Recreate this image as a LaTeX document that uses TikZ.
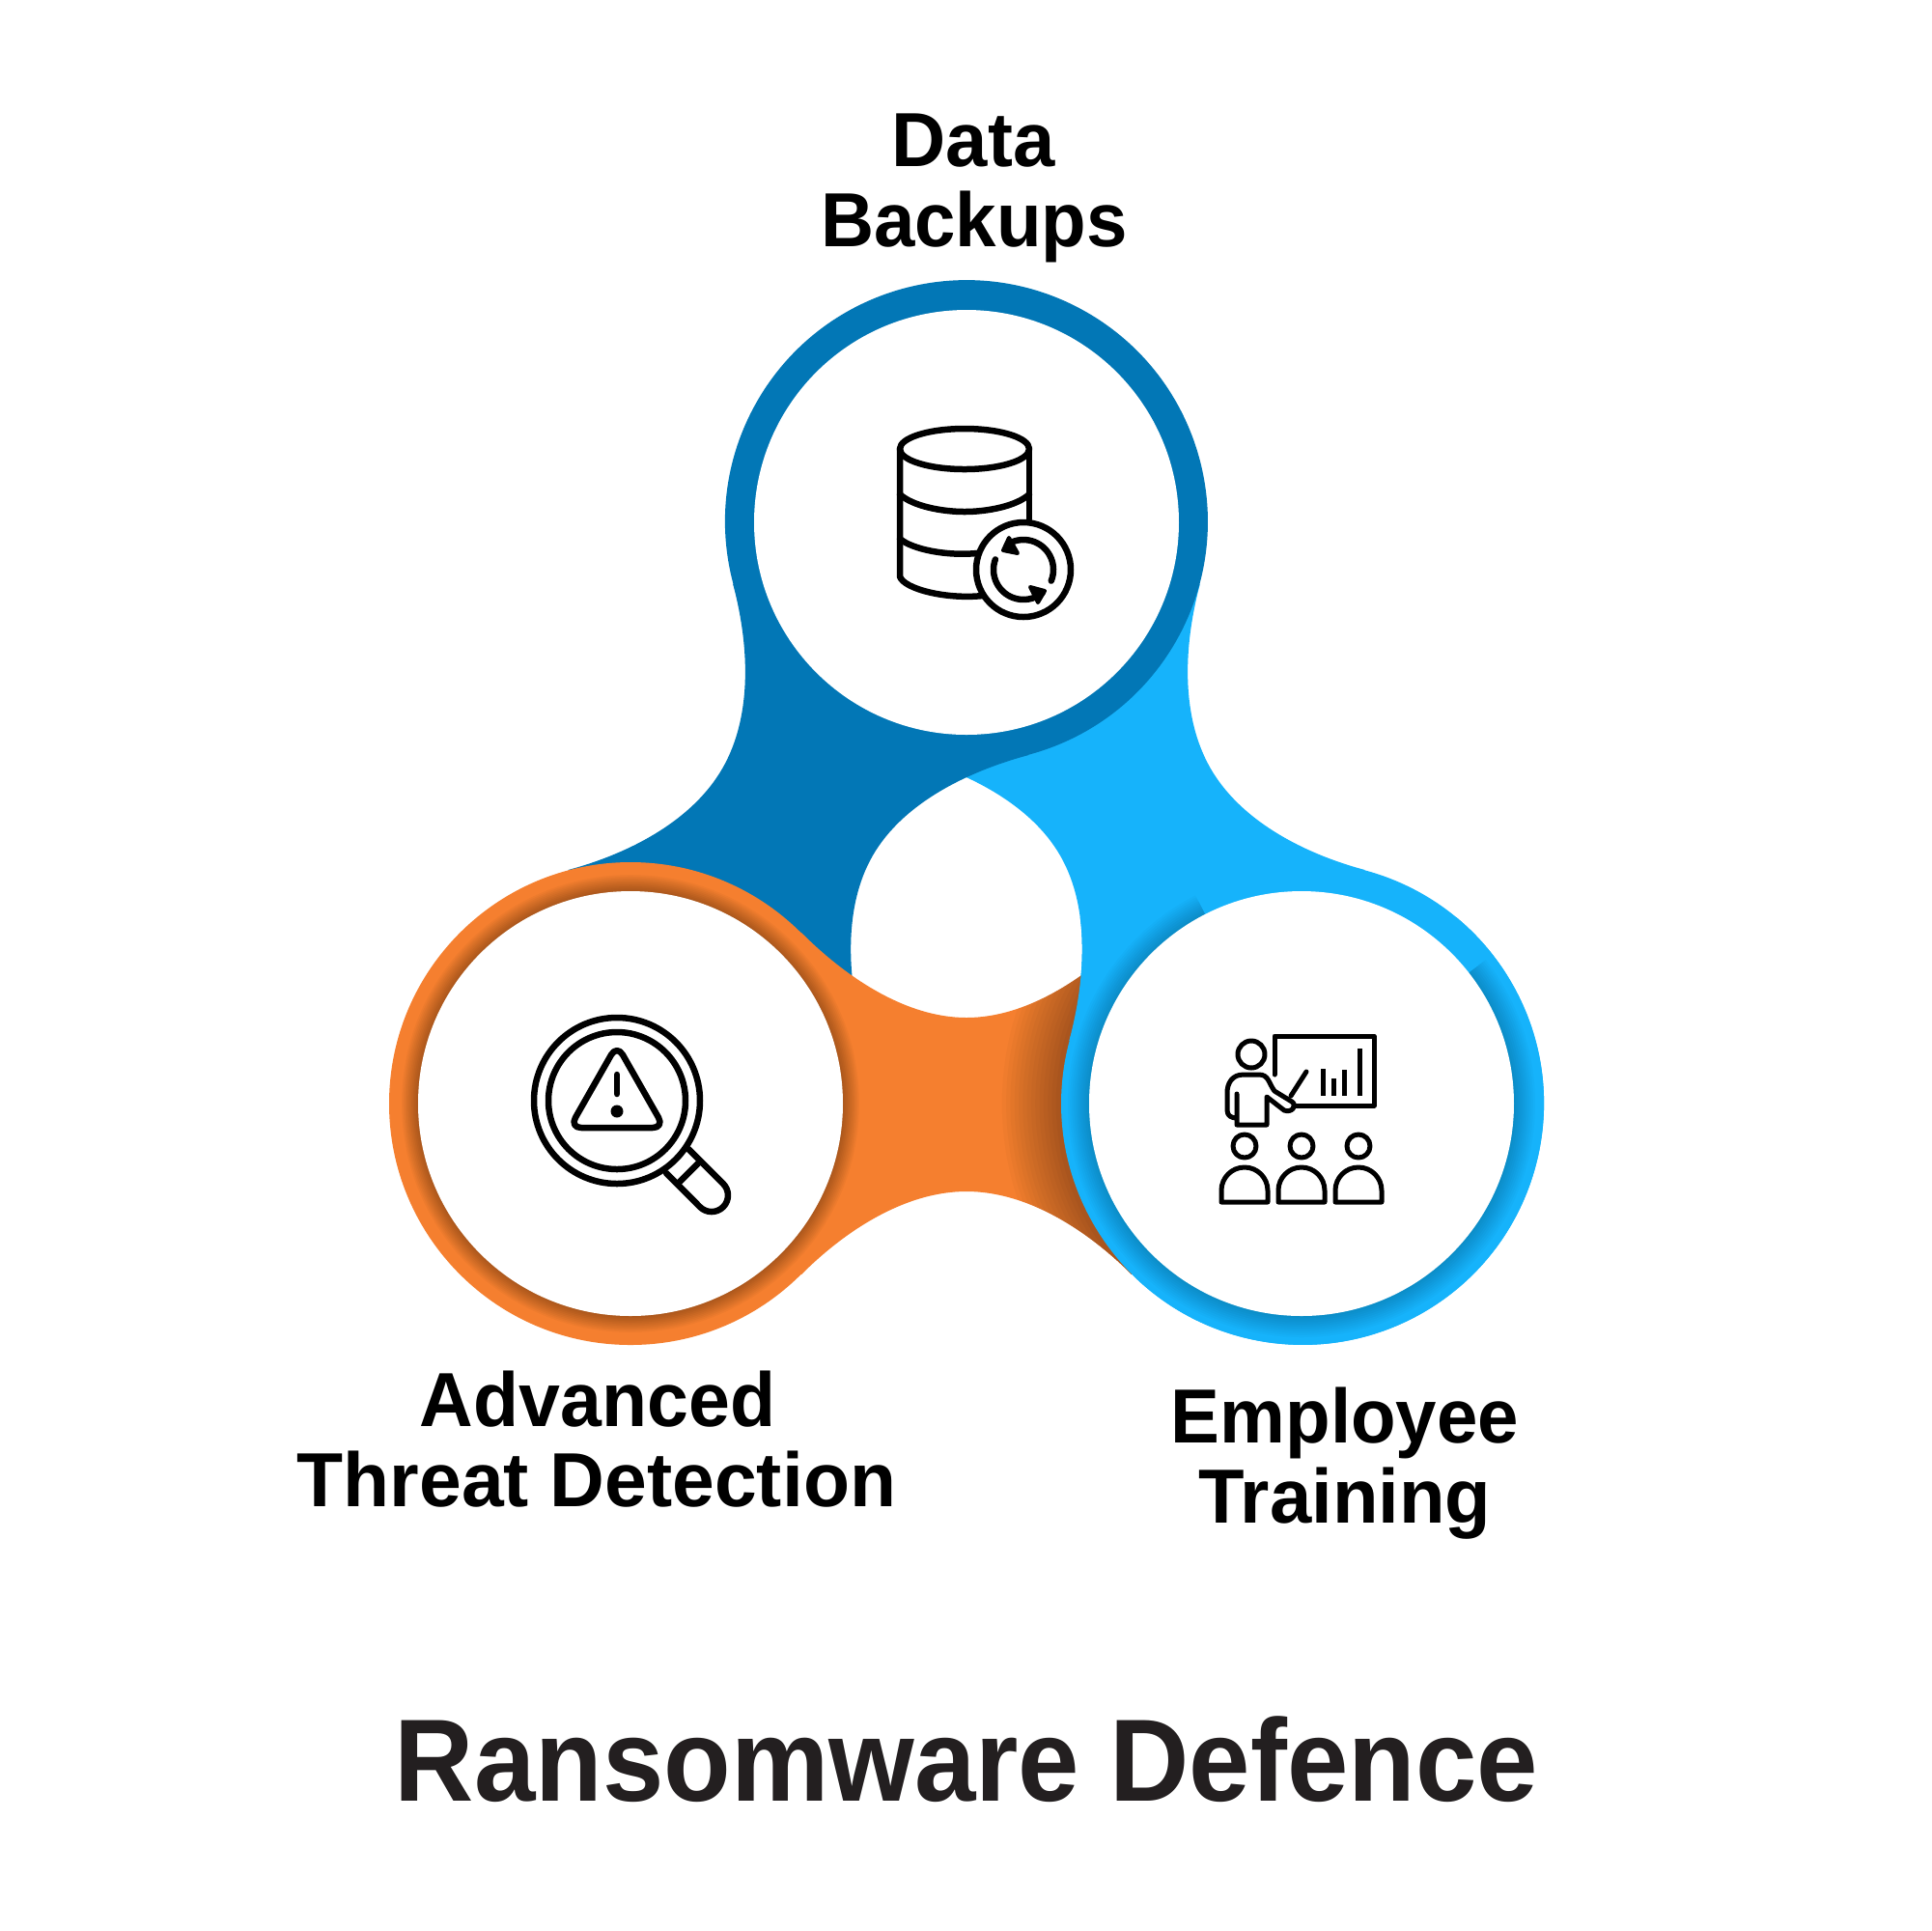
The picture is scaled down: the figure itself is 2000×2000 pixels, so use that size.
\documentclass[tikz,border=0pt]{standalone}
\usepackage{fontspec}
\setmainfont{Liberation Sans}
\definecolor{darkb}{RGB}{2,119,182}
\definecolor{lightb}{RGB}{22,179,251}
\definecolor{orng}{RGB}{245,127,47}
\definecolor{titlec}{RGB}{35,31,32}
\newcommand{\neckpath}{(-171,24) -- (-171,378) .. controls (-125,332) and (-63,292) .. (0,292) .. controls (63,292) and (125,332) .. (171,378) -- (171,24) .. controls (125,70) and (63,112) .. (0,112) .. controls (-63,112) and (-125,70) .. (-171,24) -- cycle}
\newcommand{\lobe}[2]{%
  \begin{scope}[shift={(1001,942)},rotate=#1]
    \fill[#2] (-348,201) circle (25mm);
    \fill[#2] \neckpath;
  \end{scope}}
\tikzset{
  ico/.style={line width=0.65mm,line cap=round,line join=round,black},
  icot/.style={line width=0.5mm,line cap=round,line join=round,black},
  lab/.style={anchor=base,font=\fontsize{22.6}{26}\selectfont\bfseries,text=black,inner sep=0pt},
  ttl/.style={anchor=base,font=\fontsize{34.5}{40}\selectfont\bfseries,text=titlec,inner sep=0pt},
}
\begin{document}
\begin{tikzpicture}[x=0.1mm,y=-0.1mm]
\useasboundingbox (0,0) rectangle (2000,2000);
\fill[white] (0,0) rectangle (2000,2000);
% lobes, cyclic overlap
\lobe{120}{lightb}
\lobe{-120}{darkb}
\lobe{0}{orng}
% shadow of blue ring on the orange neck
\begin{scope}
  \clip[shift={(1001,942)}] \neckpath;
  \foreach \k in {1,...,14}
    \fill[black,fill opacity=.022] (1348,1143) circle ({(25+\k*0.43)*1mm});
\end{scope}
% blue lobe again, over the orange
\begin{scope}
  \clip (1040,950) rectangle (1700,1500);
  \lobe{120}{lightb}
\end{scope}
% inner glows
\foreach \k in {1,...,10}
  \fill[black,fill opacity=.033] (653,1143) circle ({(22+\k*0.17)*1mm});
\begin{scope}
  \clip (1348,1143) -- +(117:4cm) -- +(-4cm,4cm) -- +(-4cm,-4cm) -- +(4cm,-4cm) -- +(4cm,3.125cm) -- cycle;
  \foreach \k in {1,...,10}
    \fill[black,fill opacity=.02] (1348,1143) circle ({(22+\k*0.22)*1mm});
\end{scope}
% white discs
\fill[white] (1001,541) circle (22mm);
\fill[white] (653,1143) circle (22mm);
\fill[white] (1348,1143) circle (22mm);
% database icon
\draw[ico] (999,465) ellipse (6.7mm and 2.1mm);
\draw[ico] (932,465) -- (932,597) .. controls (936,610) and (980,621) .. (1018,617);
\draw[ico] (1066,465) -- (1066,538);
\draw[ico] (932,512) .. controls (945,524) and (975,530) .. (999,530) .. controls (1023,530) and (1053,524) .. (1066,512);
\draw[ico] (932,558) .. controls (945,569) and (980,576) .. (1012,573);
\draw[ico,fill=white] (1060,590) circle (4.9mm);
\draw[ico] (1060,590) ++(-22:3.1mm) arc[start angle=-22,end angle=122,radius=3.1mm];
\draw[ico] (1060,590) ++(160:3.1mm) arc[start angle=160,end angle=310,radius=3.1mm];
\fill[black,draw=black,line width=.4mm,line join=round] (1045,557) -- (1039,570) -- (1054,573) -- cycle;
\fill[black,draw=black,line width=.4mm,line join=round] (1067,608) -- (1082,612) -- (1075,624) -- cycle;
% magnifier icon
\draw[ico] (639,1140) circle (8.6mm);
\draw[ico] (639,1140) circle (7.1mm);
\draw[ico,rounded corners=1.2mm] (639,1082) -- (688,1168) -- (590,1168) -- cycle;
\draw[ico] (639,1113) -- (639,1133);
\fill[black] (639,1151) circle (.65mm);
\draw[ico] (713,1190) -- (749,1226) arc[start angle=45,end angle=-135,radius=1.7mm] -- (690,1215);
\draw[ico] (703,1225) -- (725,1203);
% training icon
\draw[icot] (1320,1113) -- (1320,1073) -- (1423,1073) -- (1423,1145) -- (1340,1145);
\foreach \xx/\yy in {1370/1107,1381/1117,1392/1108,1408/1086}
  \draw[line width=.5mm,black] (\xx,\yy) -- (\xx,1135);
\draw[icot] (1353,1110) -- (1337,1135);
\draw[icot] (1296,1092) circle (1.4mm);
\draw[icot] (1281,1133) -- (1281,1165) -- (1312,1165) -- (1312,1136) -- (1330,1150) .. controls (1338,1153) and (1344,1145) .. (1338,1141) -- (1320,1130) .. controls (1314,1122) and (1314,1113) .. (1304,1113) -- (1288,1113) .. controls (1276,1113) and (1271,1122) .. (1271,1132) -- (1271,1150) .. controls (1271,1156) and (1276,1158) .. (1281,1158);
\foreach \xx in {1289,1348,1407}{
  \draw[icot] (\xx,1187) circle (1.2mm);
  \draw[icot] (\xx-24,1245) -- (\xx-24,1233) arc[start angle=180,end angle=0,radius=2.4mm] -- (\xx+24,1245) -- cycle;
}
% labels
\node[lab] (l1) at (1008,172) {\scalebox{.98}[1]{Data}};
\node[lab] (l2) at (1009,255) {\scalebox{.96}[1]{Backups}};
\node[lab] (l3) at (619,1477) {\scalebox{.97}[1]{Advanced}};
\node[lab] (l4) at (618,1560) {\scalebox{.99}[1]{Threat Detection}};
\node[lab] (l5) at (1393,1494) {\scalebox{.96}[1]{Employee}};
\node[lab] (l6) at (1393,1577) {\scalebox{.98}[1]{Training}};
\node[ttl] (t) at (1001,1865) {\scalebox{.94}[1]{Ransomware Defence}};
\end{tikzpicture}
\end{document}
